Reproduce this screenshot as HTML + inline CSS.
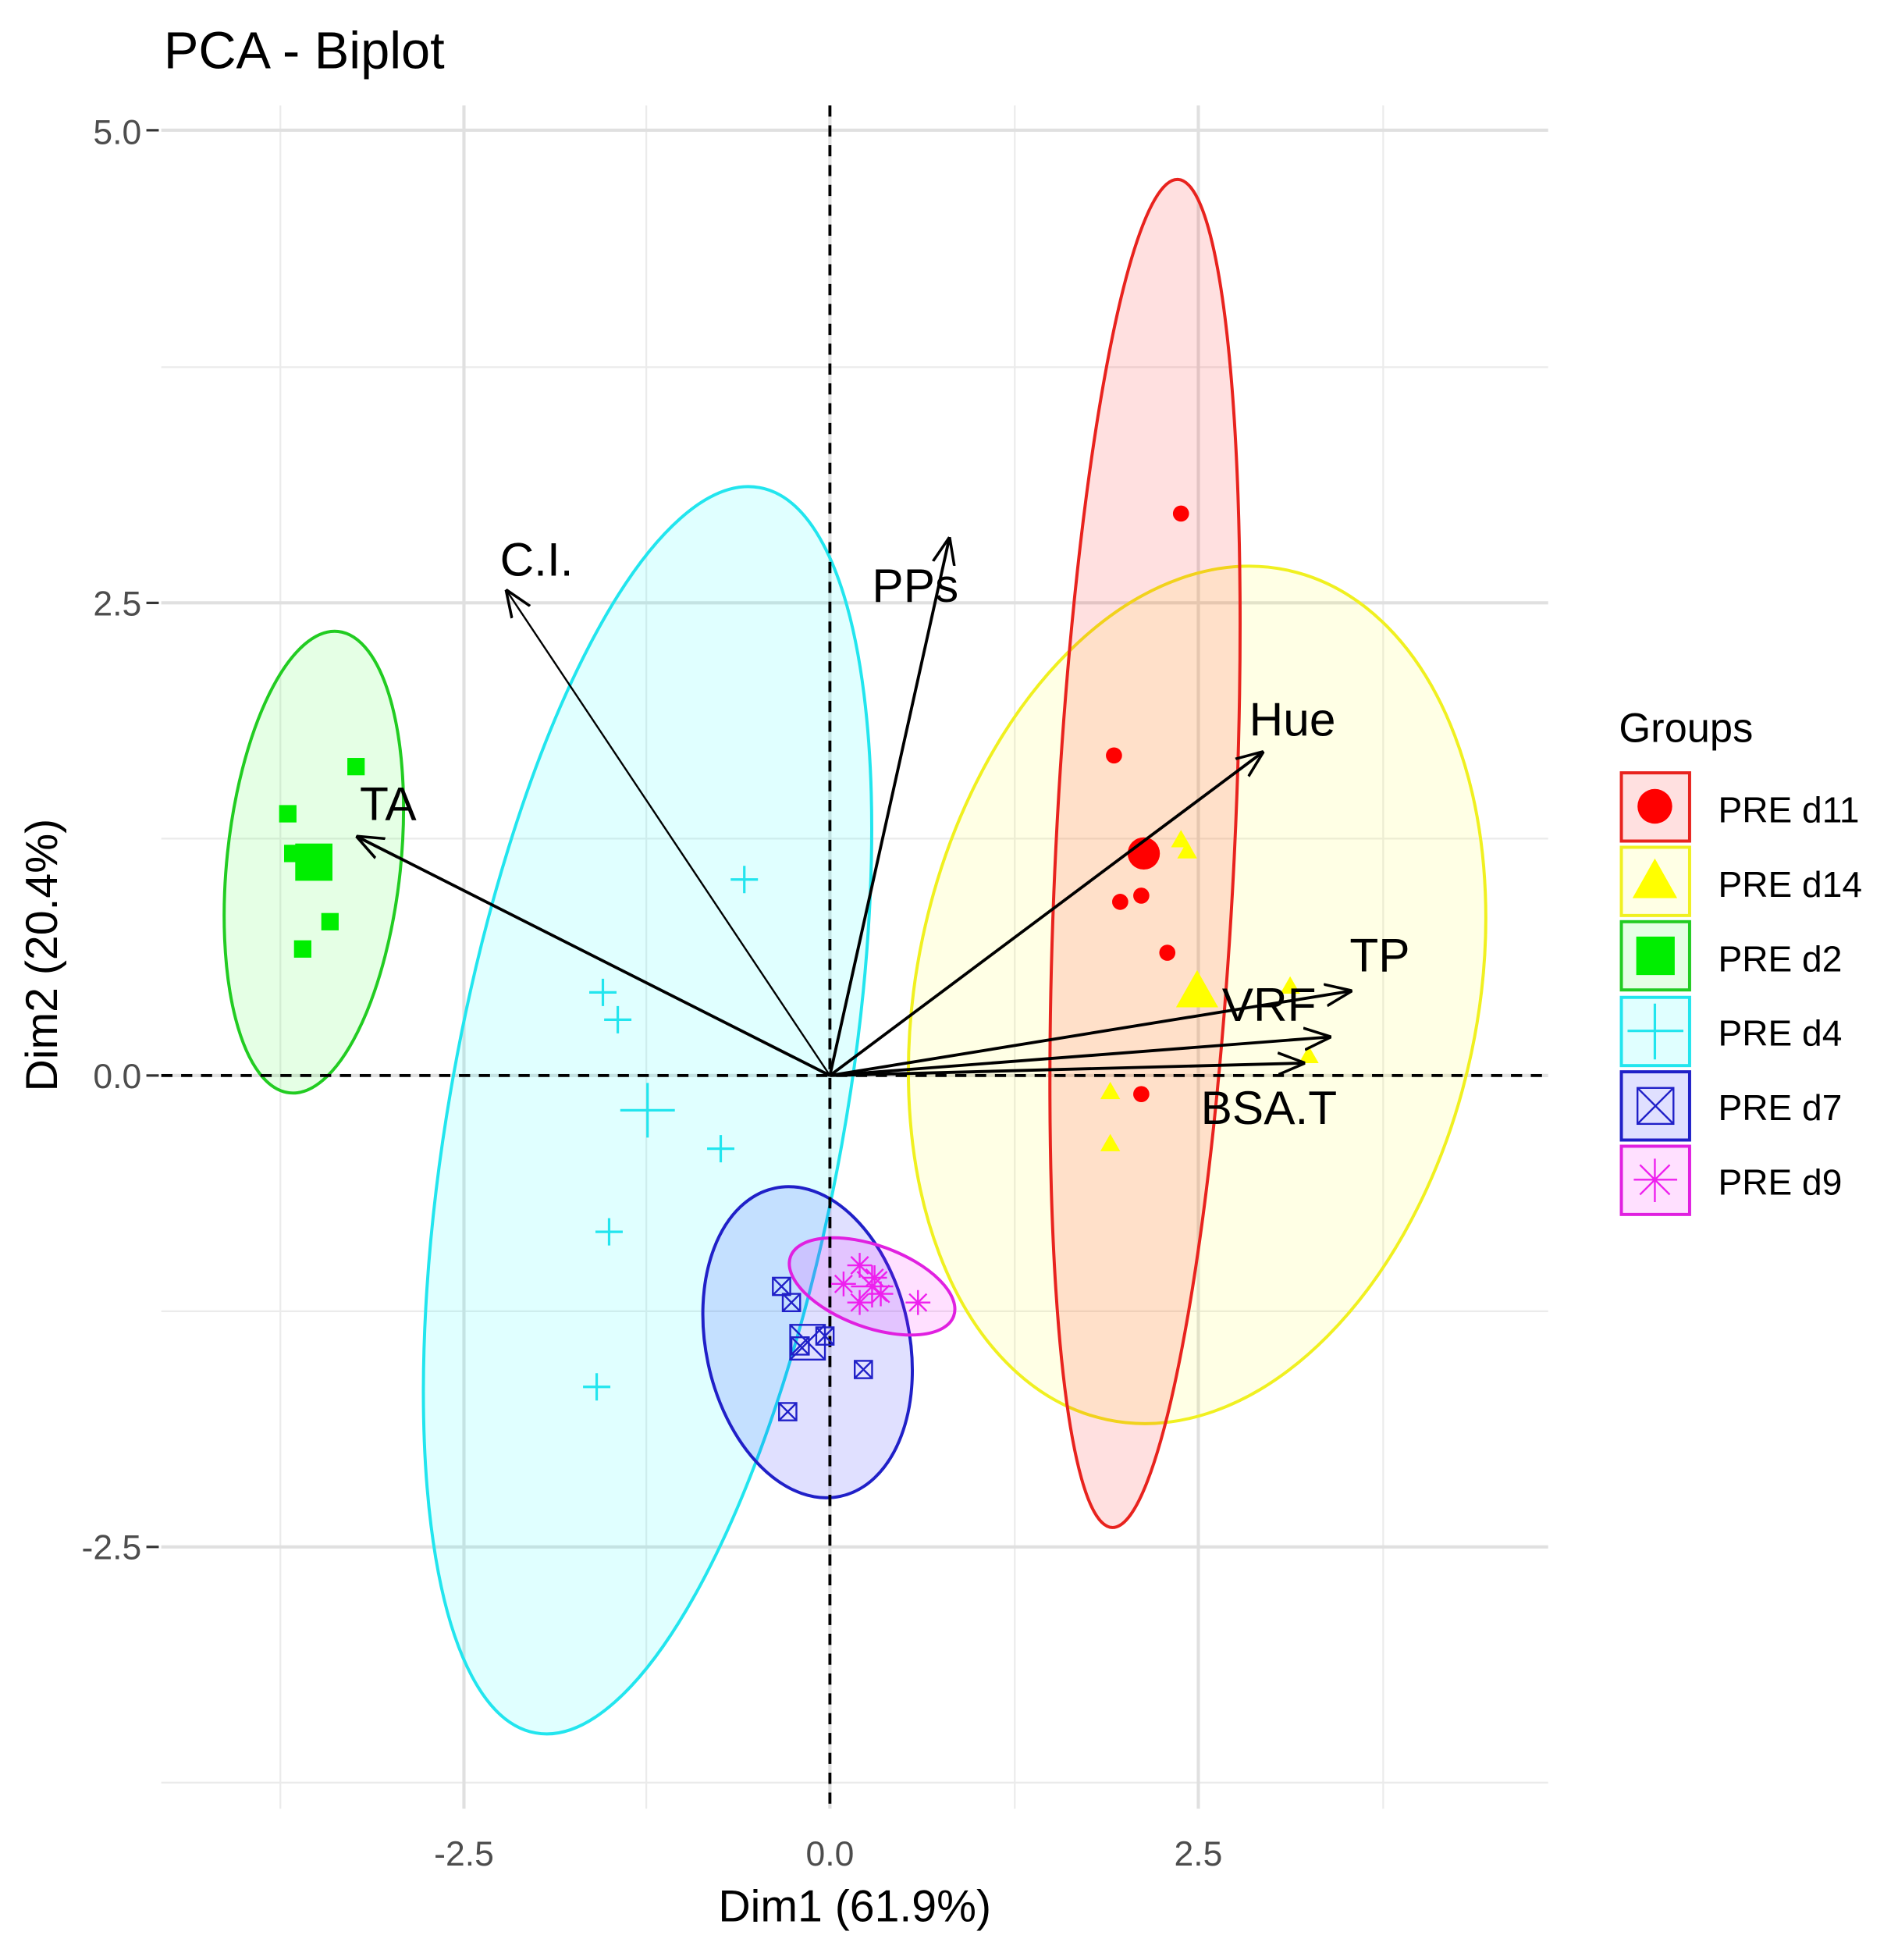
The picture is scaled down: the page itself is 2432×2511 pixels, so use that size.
<!DOCTYPE html>
<html><head><meta charset="utf-8"><style>html,body{margin:0;padding:0;background:#fff}svg{display:block}</style></head>
<body>
<svg width="2432" height="2511" viewBox="0 0 1530 1580" preserveAspectRatio="none" xmlns="http://www.w3.org/2000/svg" font-family="Liberation Sans, Arial, sans-serif">
<defs>
<marker id="ah2" viewBox="0 0 10 10" refX="9" refY="5" markerWidth="22" markerHeight="22" markerUnits="userSpaceOnUse" orient="auto"><path d="M0,1 L10,5 L0,9" fill="none" stroke="#000" stroke-width="1"/></marker>
</defs>
<rect width="1530" height="1580" fill="#fff"/>
<g stroke="#ebebeb" stroke-width="1.4">
<line x1="226" y1="85" x2="226" y2="1458"/><line x1="521" y1="85" x2="521" y2="1458"/><line x1="818" y1="85" x2="818" y2="1458"/><line x1="1115" y1="85" x2="1115" y2="1458"/>
<line x1="130" y1="296" x2="1248" y2="296"/><line x1="130" y1="676" x2="1248" y2="676"/><line x1="130" y1="1057" x2="1248" y2="1057"/><line x1="130" y1="1437" x2="1248" y2="1437"/>
</g>
<g stroke="#e0e0e0" stroke-width="2.6">
<line x1="374" y1="85" x2="374" y2="1458"/><line x1="669" y1="85" x2="669" y2="1458"/><line x1="966" y1="85" x2="966" y2="1458"/>
<line x1="130" y1="105" x2="1248" y2="105"/><line x1="130" y1="486" x2="1248" y2="486"/><line x1="130" y1="867" x2="1248" y2="867"/><line x1="130" y1="1247" x2="1248" y2="1247"/>
</g>
<ellipse cx="522" cy="895" rx="159" ry="510" transform="rotate(10.2 522 895)" fill="#00ffff" fill-opacity="0.12" stroke="#22e5ee" stroke-width="2.5"/>
<ellipse cx="965" cy="802" rx="226" ry="350" transform="rotate(12 965 802)" fill="#ffff00" fill-opacity="0.1" stroke="#f0f020" stroke-width="2.5"/>
<ellipse cx="923" cy="688" rx="72" ry="544" transform="rotate(2.8 923 688)" fill="#ff0000" fill-opacity="0.12" stroke="#e8231e" stroke-width="2.5"/>
<ellipse cx="253" cy="695" rx="70" ry="187" transform="rotate(6 253 695)" fill="#00ff00" fill-opacity="0.1" stroke="#22cc22" stroke-width="2.5"/>
<ellipse cx="651" cy="1082" rx="82" ry="127" transform="rotate(-12 651 1082)" fill="#0000ff" fill-opacity="0.12" stroke="#2020c8" stroke-width="2.5"/>
<ellipse cx="703" cy="1037" rx="70" ry="33" transform="rotate(20 703 1037)" fill="#ff00ff" fill-opacity="0.12" stroke="#e020e0" stroke-width="2.5"/>
<g stroke="#000" stroke-width="2.4" stroke-dasharray="9,7">
<line x1="669" y1="85" x2="669" y2="1458"/><line x1="130" y1="867" x2="1248" y2="867"/>
</g>
<g fill="#ff0000"><circle cx="952" cy="414" r="6.5"/><circle cx="898" cy="609" r="6.5"/><circle cx="903" cy="727" r="6.5"/><circle cx="920" cy="722" r="6.5"/><circle cx="941" cy="768" r="6.5"/><circle cx="920" cy="882" r="6.5"/><circle cx="922" cy="688" r="13"/></g>
<g fill="#ffff00"><path d="M952,669 l8,14 h-16z"/><path d="M957,678 l8,14 h-16z"/><path d="M895,872 l8,14 h-16z"/><path d="M895,914 l8,14 h-16z"/><path d="M1040,787 l8,14 h-16z"/><path d="M1055,843 l8,14 h-16z"/><path d="M965,782 l17,30 h-34z"/></g>
<g fill="#00ee00"><rect x="225" y="649" width="14" height="14"/><rect x="280" y="611" width="14" height="14"/><rect x="229" y="681" width="14" height="14"/><rect x="259" y="736" width="14" height="14"/><rect x="237" y="758" width="14" height="14"/><rect x="238" y="680" width="30" height="30"/></g>
<g stroke="#22e5ee" stroke-width="2" fill="none"><path d="M600,698v22M589,709h22"/><path d="M486,789v22M475,800h22"/><path d="M498,811v22M487,822h22"/><path d="M581,915v22M570,926h22"/><path d="M491,982v22M480,993h22"/><path d="M481,1107v22M470,1118h22"/><path d="M522,873v44M500,895h44"/></g>
<g stroke="#2020c8" stroke-width="1.5" fill="none">
<g transform="translate(630,1037)"><rect x="-7" y="-7" width="14" height="14"/><path d="M-7,-7L7,7M7,-7L-7,7"/></g>
<g transform="translate(638,1050)"><rect x="-7" y="-7" width="14" height="14"/><path d="M-7,-7L7,7M7,-7L-7,7"/></g>
<g transform="translate(665,1077)"><rect x="-7" y="-7" width="14" height="14"/><path d="M-7,-7L7,7M7,-7L-7,7"/></g>
<g transform="translate(645,1085)"><rect x="-7" y="-7" width="14" height="14"/><path d="M-7,-7L7,7M7,-7L-7,7"/></g>
<g transform="translate(696,1104)"><rect x="-7" y="-7" width="14" height="14"/><path d="M-7,-7L7,7M7,-7L-7,7"/></g>
<g transform="translate(635,1138)"><rect x="-7" y="-7" width="14" height="14"/><path d="M-7,-7L7,7M7,-7L-7,7"/></g>
<g transform="translate(651,1082)"><rect x="-14" y="-14" width="28" height="28"/><path d="M-14,-14L14,14M14,-14L-14,14"/></g>
</g>
<g stroke="#ee20ee" stroke-width="1.5" fill="none">
<path d="M693,1010v20M683,1020h20M686,1013l14,14M700,1013l-14,14"/>
<path d="M705,1020v20M695,1030h20M698,1023l14,14M712,1023l-14,14"/>
<path d="M680,1025v20M670,1035h20M673,1028l14,14M687,1028l-14,14"/>
<path d="M710,1033v20M700,1043h20M703,1036l14,14M717,1036l-14,14"/>
<path d="M693,1040v20M683,1050h20M686,1043l14,14M700,1043l-14,14"/>
<path d="M740,1040v20M730,1050h20M733,1043l14,14M747,1043l-14,14"/>
<path d="M703,1020v34M686,1037h34M691,1025l24,24M715,1025l-24,24"/>
</g>
<g stroke="#000" stroke-width="2.4" fill="none">
<line x1="669" y1="867" x2="289" y2="675" marker-end="url(#ah2)"/>
<line x1="669" y1="867" x2="409" y2="477" marker-end="url(#ah2)" stroke-width="1.5"/>
<line x1="669" y1="867" x2="765" y2="435" marker-end="url(#ah2)"/>
<line x1="669" y1="867" x2="1017" y2="607" marker-end="url(#ah2)"/>
<line x1="669" y1="867" x2="1088" y2="799" marker-end="url(#ah2)"/>
<line x1="669" y1="867" x2="1071" y2="836" marker-end="url(#ah2)"/>
<line x1="669" y1="867" x2="1050" y2="857" marker-end="url(#ah2)"/>
</g>
<g font-size="38" fill="#000">
<text x="290" y="661">TA</text><text x="403" y="464">C.I.</text><text x="703" y="485">PPs</text><text x="1007" y="593">Hue</text><text x="1088" y="783">TP</text><text x="985" y="823">VRF</text><text x="968" y="906">BSA.T</text>
</g>
<g stroke="#333" stroke-width="2"><line x1="118" y1="105" x2="128" y2="105"/><line x1="118" y1="486" x2="128" y2="486"/><line x1="118" y1="867" x2="128" y2="867"/><line x1="118" y1="1247" x2="128" y2="1247"/></g>
<g font-size="28" fill="#4d4d4d" text-anchor="end"><text x="114" y="116">5.0</text><text x="114" y="496">2.5</text><text x="114" y="877">0.0</text><text x="114" y="1257">-2.5</text></g>
<g font-size="28" fill="#4d4d4d" text-anchor="middle"><text x="374" y="1504">-2.5</text><text x="669" y="1504">0.0</text><text x="966" y="1504">2.5</text></g>
<text x="689" y="1549" font-size="36" text-anchor="middle">Dim1 (61.9%)</text>
<text transform="translate(46,770) rotate(-90)" font-size="36" text-anchor="middle">Dim2 (20.4%)</text>
<text x="132" y="55" font-size="42">PCA - Biplot</text>
<text x="1305" y="598" font-size="33">Groups</text>
<g stroke-width="2.5">
<rect x="1307" y="623" width="55" height="55" fill="#ff0000" fill-opacity="0.12" stroke="#e8231e"/>
<rect x="1307" y="683" width="55" height="55" fill="#ffff00" fill-opacity="0.1" stroke="#f0f020"/>
<rect x="1307" y="743" width="55" height="55" fill="#00ff00" fill-opacity="0.1" stroke="#22cc22"/>
<rect x="1307" y="804" width="55" height="55" fill="#00ffff" fill-opacity="0.12" stroke="#22e5ee"/>
<rect x="1307" y="864" width="55" height="55" fill="#0000ff" fill-opacity="0.12" stroke="#2020c8"/>
<rect x="1307" y="924" width="55" height="55" fill="#ff00ff" fill-opacity="0.12" stroke="#e020e0"/>
</g>
<circle cx="1334" cy="650" r="14" fill="#ff0000"/>
<path d="M1334,692 l18,32 h-36z" fill="#ffff00"/>
<rect x="1319" y="755" width="31" height="31" fill="#00ee00"/>
<path d="M1334,809v45M1312,831h45" stroke="#22e5ee" stroke-width="2"/>
<g stroke="#2020c8" stroke-width="1.5" fill="none"><rect x="1320" y="877" width="29" height="29"/><path d="M1320,877l29,29M1349,877l-29,29"/></g>
<path d="M1334,934v35M1317,951h35M1322,939l24,24M1346,939l-24,24" stroke="#ee20ee" stroke-width="1.5"/>
<g font-size="29" fill="#000">
<text x="1385" y="663">PRE d11</text><text x="1385" y="723">PRE d14</text><text x="1385" y="783">PRE d2</text><text x="1385" y="843">PRE d4</text><text x="1385" y="903">PRE d7</text><text x="1385" y="963">PRE d9</text>
</g>
</svg>
</body></html>
